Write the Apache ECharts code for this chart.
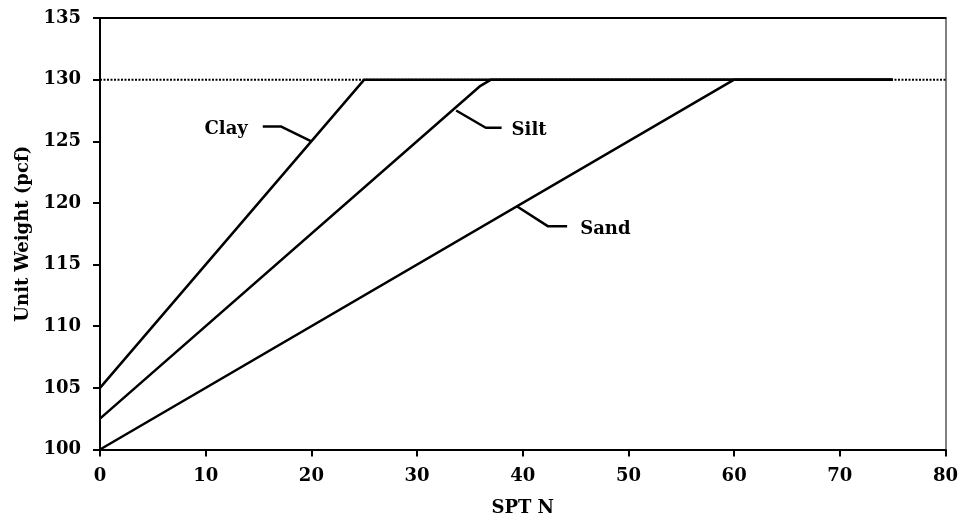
<!DOCTYPE html>
<html>
<head>
<meta charset="utf-8">
<script src="https://cdn.jsdelivr.net/npm/echarts@6/dist/echarts.min.js"></script>
<style>
  html, body { margin: 0; padding: 0; background: #fff; }
  #chart { width: 958px; height: 518px; }
</style>
</head>
<body>
<div id="chart"></div>
<script>
// Unit weight vs. SPT N for three soil types (vertex points of each curve)
const clayPoints = [[0, 105], [25, 130], [75, 130]];
const siltPoints = [[0, 102.5], [36, 129.5], [37, 130], [75, 130]];
const sandPoints = [[0, 100], [60, 130], [75, 130]];

// Upper limit of unit weight
const capValue = 130;
const capRange = [0, 80];

// Leader lines: from a point on the curve out to the label text
const clayLeader = [[20, 125], [17.1, 126.2], [15.4, 126.2]];
const siltLeader = [[33.7, 127.5], [36.5, 126.1], [38.0, 126.1]];
const sandLeader = [[39.4, 119.75], [42.4, 118.1], [44.2, 118.1]];

// Curve labels
const clayText = 'Clay';
const siltText = 'Silt';
const sandText = 'Sand';

const xTitle = 'SPT N';
const yTitle = 'Unit Weight (pcf)';

const FONT = 'DejaVu Serif';
const textStyle = { fontFamily: FONT, fontWeight: 'bold', fontSize: 18, color: '#000' };

const chart = echarts.init(document.getElementById('chart'));

function curve(name, pts, extra) {
  return Object.assign({
    name: name,
    type: 'line',
    data: pts,
    symbol: 'none',
    silent: true,
    lineStyle: { color: '#000', width: 2.5 },
    z: 3
  }, extra || {});
}

// Leader line with its text placed beyond the free end
function leader(text, pts, side, gap) {
  const toLeft = side === 'left';
  return curve(text, pts, {
    endLabel: Object.assign({
      show: true,
      formatter: () => text,
      distance: 0,
      align: toLeft ? 'right' : 'left',
      offset: [toLeft ? -gap : gap, 3]
    }, textStyle)
  });
}

chart.setOption({
  animation: false,
  backgroundColor: '#fff',
  grid: { left: 100, right: 12.5, top: 18, bottom: 68.5, outerBoundsMode: 'none', containLabel: false },
  xAxis: [{
    type: 'value',
    min: 0, max: 80, interval: 10,
    name: xTitle,
    nameLocation: 'middle',
    nameGap: 50,
    nameTextStyle: textStyle,
    axisLine: { onZero: false, lineStyle: { color: '#000', width: 2 } },
    axisTick: { show: true, length: 7, lineStyle: { color: '#000', width: 2 } },
    axisLabel: Object.assign({ margin: 18 }, textStyle),
    splitLine: { show: false }
  }, {
    type: 'value', position: 'top', min: 0, max: 80,
    axisLine: { show: true, onZero: false, lineStyle: { color: '#000', width: 2 } },
    axisTick: { show: false }, axisLabel: { show: false }, splitLine: { show: false }
  }],
  yAxis: [{
    type: 'value',
    min: 100, max: 135, interval: 5,
    name: yTitle,
    nameLocation: 'middle',
    nameGap: 66,
    nameTextStyle: textStyle,
    axisLine: { show: true, onZero: false, lineStyle: { color: '#000', width: 2 } },
    axisTick: { show: true, length: 7, lineStyle: { color: '#000', width: 2 } },
    axisLabel: Object.assign({ margin: 19 }, textStyle),
    splitLine: { show: false }
  }, {
    type: 'value', position: 'right', min: 100, max: 135,
    axisLine: { show: true, onZero: false, lineStyle: { color: '#808080', width: 2 } },
    axisTick: { show: false }, axisLabel: { show: false }, splitLine: { show: false }
  }],
  series: [
    curve('cap', [[capRange[0], capValue], [capRange[1], capValue]], {
      lineStyle: { color: '#000', width: 2, type: [2, 1.5] }, z: 2
    }),
    curve('Clay', clayPoints),
    curve('Silt', siltPoints),
    curve('Sand', sandPoints),
    leader(clayText, clayLeader, 'left', 15),
    leader(siltText, siltLeader, 'right', 10),
    leader(sandText, sandLeader, 'right', 13)
  ]
});
</script>
</body>
</html>
